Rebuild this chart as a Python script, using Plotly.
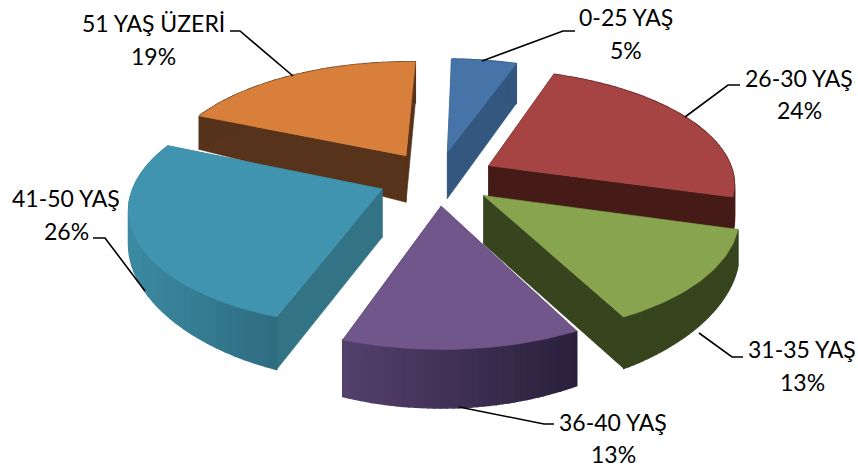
import numpy as np
import plotly.graph_objects as go

# ---- data ----
labels = ["0-25 YAŞ", "26-30 YAŞ", "31-35 YAŞ", "36-40 YAŞ", "41-50 YAŞ", "51 YAŞ ÜZERİ"]
values = [5, 24, 13, 13, 26, 19]
percent_labels = ["5%", "24%", "13%", "13%", "26%", "19%"]

# ---- styles ----
top_colors = ["#4673a8", "#a54442", "#88a44e", "#71568b", "#4094af", "#d8803b"]
face_colors = ["#34577f", "#451a17", "#37451f", "#3a2c4f", "#327385", "#56331a"]
wall_left = ["#34577f", "#451a17", "#37451f", "#54406c", "#3c8aa2", "#56331a"]
wall_right = ["#34577f", "#451a17", "#37451f", "#2a203b", "#2e6c80", "#56331a"]
draw_order = [0, 5, 1, 4, 2, 3]

# label centres and leader lines, pixels
label_pos = [(626, 17, 50), (799, 78, 110), (802, 349, 382), (613, 422, 454), (66, 198, 231), (153, 23, 56)]
leaders = [
    [(482, 61), (563, 31), (575, 31)],
    [(685, 117), (728, 85), (740, 85)],
    [(699, 333), (732, 357), (743, 357)],
    [(459, 407), (544, 424), (554, 424)],
    [(145, 291), (105, 238), (93, 238)],
    [(293, 76), (240, 31), (230, 31)],
]

# ---- projection ----
VX, VY, A, B, K, H, EXPLODE, TAPER = 437, 178, 246, 113.5, 0.145, 48, 0.24, 0.22
ROTATION = np.radians(1.5)


def project(X, Y, drop=0.0):
    X, Y = np.asarray(X, float), np.asarray(Y, float)
    s = 1 / (1 + K * Y)
    return VX + A * X * s, VY - B * Y * s + drop * H * s * (1 - TAPER * X ** 2)


def blend(c1, c2, t):
    a = [int(c1[i:i + 2], 16) for i in (1, 3, 5)]
    b = [int(c2[i:i + 2], 16) for i in (1, 3, 5)]
    return "#%02x%02x%02x" % tuple(round(p + (q - p) * t) for p, q in zip(a, b))


fig = go.Figure()


def poly(x, y, color, lw=0.6):
    fig.add_trace(go.Scatter(
        x=list(x), y=list(y), mode="lines", fill="toself", fillcolor=color,
        line=dict(color=color, width=lw), hoverinfo="skip", showlegend=False))


edges = np.cumsum([0] + values) / sum(values) * 2 * np.pi + ROTATION
for i in draw_order:
    a0, a1 = edges[i], edges[i + 1]
    mid = (a0 + a1) / 2
    ax, ay = EXPLODE * np.sin(mid), EXPLODE * np.cos(mid)
    th = np.linspace(a0, a1, 40)
    wx, wy = ax + np.sin(th), ay + np.cos(th)

    # cut faces
    for ang in (a0, a1):
        ex, ey = ax + np.sin(ang), ay + np.cos(ang)
        xt, yt = project([ax, ex], [ay, ey])
        xb, yb = project([ax, ex], [ay, ey], 1)
        poly([xt[0], xt[1], xb[1], xb[0], xt[0]], [yt[0], yt[1], yb[1], yb[0], yt[0]], face_colors[i])

    # outer wall as strips shaded by horizontal position
    xt, yt = project(wx, wy)
    xb, yb = project(wx, wy, 1)
    xmin, xmax = xt.min(), xt.max()
    for j in range(0, len(th) - 1):
        t = (0.5 * (xt[j] + xt[j + 1]) - xmin) / max(xmax - xmin, 1)
        poly([xt[j], xt[j + 1], xb[j + 1], xb[j], xt[j]],
             [yt[j], yt[j + 1], yb[j + 1], yb[j], yt[j]],
             blend(wall_left[i], wall_right[i], t), lw=1.5)

    # top face
    px, py = project(np.r_[ax, wx, ax], np.r_[ay, wy, ay])
    poly(px, py, top_colors[i])

for pts in leaders:
    fig.add_trace(go.Scatter(
        x=[p[0] for p in pts], y=[p[1] for p in pts], mode="lines",
        line=dict(color="#000000", width=1.6), hoverinfo="skip", showlegend=False))

font = dict(family="Lato, Carlito, sans-serif", size=23, color="#000000")
for name, pct, (cx, y1, y2) in zip(labels, percent_labels, label_pos):
    fig.add_annotation(x=cx, y=y1, text=name, showarrow=False, font=font, xanchor="center", yanchor="middle")
    fig.add_annotation(x=cx, y=y2, text=pct, showarrow=False, font=font, xanchor="center", yanchor="middle")

fig.update_layout(
    width=858, height=468, margin=dict(l=0, r=0, t=0, b=0),
    paper_bgcolor="#ffffff", plot_bgcolor="#ffffff", showlegend=False,
    xaxis=dict(range=[0, 858], visible=False, fixedrange=True),
    yaxis=dict(range=[468, 0], visible=False, fixedrange=True),
)
fig.write_html(
    "out.html", config={"displayModeBar": False},
    post_script="document.body.style.margin='0';document.body.style.overflow='hidden';",
)
